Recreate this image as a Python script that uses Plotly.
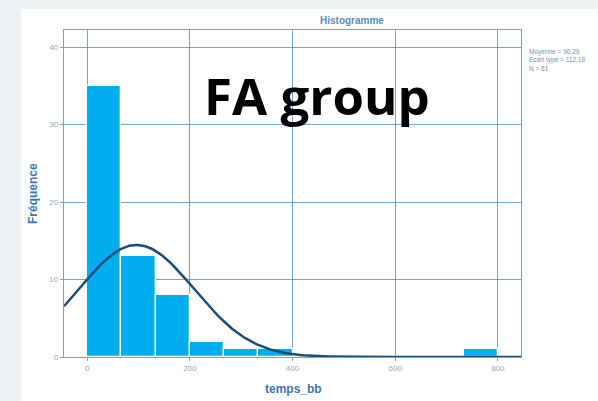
import numpy as np
import plotly.graph_objects as go

# ---- data ----
bin_start = 0.0
bin_width = 800.0 / 12
counts = [35, 13, 8, 2, 1, 1, 0, 0, 0, 0, 0, 1]
mean_val = 96.29
sd_val = 112.18
n_obs = 61
x_ticks = [0, 200, 400, 600, 800]
y_ticks = [0, 10, 20, 30, 40]

centers = [bin_start + (i + 0.5) * bin_width for i in range(len(counts))]

# fitted normal curve (from the printed mean / sd / N)
xs = np.linspace(-45, 845, 400)
ys = n_obs * bin_width / (sd_val * np.sqrt(2 * np.pi)) * np.exp(-0.5 * ((xs - mean_val) / sd_val) ** 2)

W, H = 598, 401
ml, mr, mt, mb = 64, 77, 30, 44
pw, ph = W - ml - mr, H - mt - mb

def px(x):
    return (x - ml) / pw

def py(y):
    return 1 - (y - mt) / ph

fig = go.Figure()
fig.add_trace(go.Bar(x=centers, y=counts, width=bin_width,
                     marker=dict(color="#00aeef", line=dict(color="white", width=1.3)),
                     showlegend=False, hoverinfo="skip"))
fig.add_trace(go.Scatter(x=xs, y=ys, mode="lines",
                         line=dict(color="#1a4d7c", width=2.5),
                         showlegend=False, hoverinfo="skip"))

grid = "rgba(85,140,190,0.8)"
fig.update_xaxes(range=[-45, 845], tickvals=x_ticks, showgrid=True, gridcolor=grid, gridwidth=1.3,
                 zeroline=False, showline=True, linecolor=grid, linewidth=1.3, mirror=True,
                 ticks="outside", ticklen=3, tickcolor=grid,
                 tickfont=dict(family="Liberation Sans", size=8, color="#8ea7bf"))
fig.update_yaxes(range=[0, 42.2], tickvals=y_ticks, showgrid=True, gridcolor=grid, gridwidth=1.3,
                 zeroline=False, showline=True, linecolor=grid, linewidth=1.3, mirror=True,
                 ticks="outside", ticklen=3, tickcolor=grid,
                 tickfont=dict(family="Liberation Sans", size=8, color="#8ea7bf"))

shapes = [
    # white slide panel on light background
    dict(type="rect", xref="paper", yref="paper", layer="below",
         x0=px(21), x1=px(W + 5), y0=py(9), y1=py(H + 5),
         fillcolor="white", line=dict(width=0)),
]

C = dict(xanchor="center", yanchor="middle", showarrow=False, xref="paper", yref="paper")
annotations = [
    dict(text="<b>Histogramme</b>", x=px(352), y=py(20),
         font=dict(family="Liberation Sans", size=10, color="#5a8dbd"), **C),
    dict(text="<b>Fréquence</b>", x=px(33), y=py(194), textangle=-90,
         font=dict(family="Liberation Sans", size=12, color="#3b78b0"), **C),
    dict(text="<b>temps_bb</b>", x=px(293), y=py(389),
         font=dict(family="Liberation Sans", size=12, color="#3b78b0"), **C),
    dict(text="Moyenne = 96,29<br>Ecart type = 112,18<br>N = 61", xref="paper", yref="paper",
         x=px(527), y=py(46), xanchor="left", yanchor="top", align="left", showarrow=False,
         font=dict(family="Liberation Sans", size=6.5, color="#7592ae")),
    dict(text="<b>FA group</b>", x=px(317), y=py(95),
         font=dict(family="Open Sans", size=51, color="black"), **C),
]

fig.update_layout(width=W, height=H, margin=dict(l=ml, r=mr, t=mt, b=mb),
                  paper_bgcolor="#edf2f5", plot_bgcolor="white", bargap=0,
                  shapes=shapes, annotations=annotations)

fig.write_html("out.html")
